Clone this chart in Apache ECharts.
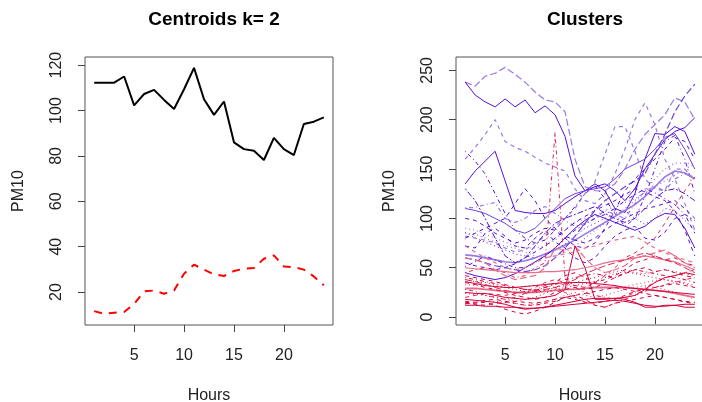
<!DOCTYPE html>
<html>
<head>
<meta charset="utf-8">
<script src="https://cdn.jsdelivr.net/npm/echarts@6/dist/echarts.min.js"></script>
<style>
  html, body { margin: 0; padding: 0; background: #ffffff; }
  #chart { width: 702px; height: 402px; }
</style>
</head>
<body>
<div id="chart"></div>
<script>
// Hour of day, 1..24
const hours = [1,2,3,4,5,6,7,8,9,10,11,12,13,14,15,16,17,18,19,20,21,22,23,24];

// Cluster centroids (PM10 per hour)
const centroidHigh = [112.3,112.3,112.3,115,102.3,107.3,109.1,104.7,100.7,109.4,118.8,105,98.1,104,86,83,82.3,78.2,88,83,80.4,94.1,95.1,97];
const centroidLow  = [11.6,10.4,10.9,11.2,14.8,20.3,20.7,19.3,20.7,28.1,32.1,29.9,27.8,27.1,29.3,30.3,30.6,34.7,36.2,31.3,31,29.9,26.9,23];

// Daily profiles assigned to the high-PM10 cluster
const highProfiles = [
  [238,234,244,247,253,246,238,228,220,218,208,160,132,128,128,135,150,170,185,195,205,222,218,200],
  [238,225,218,213,221,213,220,207,214,205,183,143,128,132,135,128,118,130,150,165,180,188,192,202],
  [168,158,145,125,105,88,80,75,78,88,100,112,125,133,120,105,92,100,122,150,178,184,160,125],
  [160,172,185,200,178,172,168,162,156,152,148,130,118,115,125,145,170,200,217,195,160,140,115,88],
  [135,148,158,168,138,108,106,105,105,108,115,122,128,135,128,110,106,125,160,186,185,193,188,165],
  [111,111,114,116,100,96,100,108,112,105,98,92,95,100,108,104,100,115,128,132,128,140,145,142],
  [90,88,84,80,76,72,70,70,72,78,88,96,100,102,108,112,116,120,126,132,138,144,150,155],
  [86,80,76,72,68,64,62,60,64,68,74,82,90,95,100,105,108,100,94,100,110,108,98,88],
  [72,70,85,90,82,72,70,80,88,76,70,60,55,60,72,82,88,92,80,78,86,100,104,85],
  [63,62,60,58,56,55,57,60,64,68,73,78,84,90,96,102,108,114,122,132,142,148,146,140],
  [55,52,50,48,50,54,60,66,72,80,88,96,102,108,113,118,124,130,127,122,118,108,88,62],
  [51,56,62,58,54,50,50,55,62,70,80,88,94,100,104,110,118,124,130,126,120,114,104,98],
  [45,42,40,38,40,44,50,56,62,70,80,90,98,104,100,96,92,88,92,100,105,104,90,70],
  [82,80,78,75,70,66,68,75,82,92,100,110,125,137,165,193,193,168,140,130,128,150,150,138],
  [85,84,80,76,72,70,66,62,60,62,66,72,80,88,95,102,110,118,128,140,150,156,156,155],
  [130,118,100,80,62,55,60,72,85,95,100,104,108,112,105,100,96,100,110,120,128,130,125,118],
  [60,58,55,52,50,48,46,48,52,60,70,82,95,108,118,125,132,138,145,165,185,208,224,236],
  [100,98,92,85,80,75,78,85,90,88,80,72,70,75,90,108,128,140,150,160,170,182,178,160],
  [110,108,105,100,95,88,85,90,100,110,120,125,128,130,132,140,150,155,160,170,182,186,170,150],
  [80,85,90,95,100,115,130,118,100,90,82,78,75,80,88,95,100,105,110,112,115,118,110,100]
];

// Daily profiles assigned to the low-PM10 cluster
const lowProfiles = [
  [18,17,16,15,13,10,8,9,10,12,14,16,18,19,19,19,18,15,10,10,12,12,10,10],
  [15,14,15,12,8,5,3,6,10,15,20,22,18,12,10,14,16,18,20,22,20,18,15,14],
  [13,15,16,16,15,14,12,13,15,18,22,25,22,20,22,25,28,30,32,30,28,25,22,18],
  [40,38,36,34,32,30,28,27,30,33,38,40,42,44,42,40,45,48,46,44,42,40,38,35],
  [29,29,28,27,26,25,25,25,26,27,28,28,29,30,30,30,30,29,28,27,26,24,22,20],
  [33,32,32,31,30,30,31,32,33,34,33,32,31,30,30,30,31,33,35,37,38,36,35,32],
  [36,34,32,31,30,30,31,32,33,34,35,35,35,34,33,32,30,29,28,27,26,25,24,23],
  [42,40,38,36,33,30,28,27,30,35,42,45,40,35,38,42,48,55,58,62,58,60,55,52],
  [45,48,50,48,45,40,42,50,55,187,40,30,25,22,20,18,20,25,30,35,40,42,45,48],
  [60,58,55,48,42,38,40,42,50,70,68,72,60,50,45,48,52,60,62,65,68,62,55,50],
  [20,22,24,23,22,24,26,30,35,38,35,32,30,35,42,50,60,65,72,80,95,112,128,142],
  [25,24,24,22,20,19,18,19,20,22,28,72,50,18,18,19,20,22,28,35,40,42,45,43],
  [72,66,60,55,50,48,50,55,60,62,64,66,70,72,76,78,80,82,76,70,65,62,58,55],
  [38,36,35,33,30,28,26,25,27,30,32,35,38,40,43,46,48,45,44,46,48,46,44,42],
  [16,15,17,18,16,14,12,12,14,16,20,18,15,14,16,18,22,26,28,30,32,34,32,30],
  [50,49,48,47,46,45,45,45,46,46,47,48,50,52,55,57,58,60,62,60,58,56,52,48],
  [28,26,22,20,18,20,24,28,32,30,25,20,15,12,10,14,18,22,26,30,33,35,38,40],
  [35,33,30,28,25,22,20,18,20,25,28,30,28,30,35,40,44,48,50,46,48,45,42,40],
  [14,13,12,14,15,16,15,14,16,18,20,22,24,26,28,30,28,26,24,22,20,18,16,15],
  [24,23,22,20,18,16,18,20,24,28,30,32,34,36,40,44,46,44,42,40,38,36,34,30],
  [38,36,33,30,27,25,24,26,28,30,34,38,44,48,52,55,58,62,65,62,58,55,50,45],
  [12,12,11,11,10,10,9,9,10,11,12,13,14,15,16,17,16,14,12,11,11,12,13,13]
];

// Axis tick values
const xTicks = [5, 10, 15, 20];
const yTicksLeft = [20, 40, 60, 80, 100, 120];
const yTicksRight = [0, 50, 100, 150, 200, 250];

// Styling: colours and line types per profile
const FONT = "'Liberation Sans', Arial, sans-serif";
const P_DARK = '#5510d8', P_MID = '#7040dc', P_LIGHT = '#9a78e2';
const R_DARK = '#d4003a', R_MID = '#dc2850', R_LIGHT = '#e46e8c';
const LTY = {
  solid: 'solid', dashed: [4, 4], dotted: [1, 3], dotdash: [1, 3, 4, 3],
  longdash: [7, 3], twodash: [2, 2, 6, 2]
};
const highColor = [P_LIGHT, P_DARK, P_DARK, P_LIGHT, P_DARK, P_LIGHT, P_LIGHT, P_DARK, P_DARK, P_LIGHT,
                   P_DARK, P_DARK, P_DARK, P_LIGHT, P_LIGHT, P_DARK, P_MID, P_DARK, P_MID, P_DARK];
const highType = ['longdash', 'solid', 'dotdash', 'dashed', 'solid', 'dotdash', 'dotted', 'dotted', 'dashed', 'solid',
                  'dashed', 'dotdash', 'solid', 'dashed', 'dotted', 'twodash', 'longdash', 'dashed', 'solid', 'dashed'];
const highWidth = [1.2, 1, 1, 1.2, 1, 1.2, 1.2, 1, 1, 1.6, 1, 1, 1, 1.2, 1.2, 1, 1.2, 1, 1, 1];
const lowColor = [R_DARK, R_DARK, R_MID, R_DARK, R_LIGHT, R_LIGHT, R_DARK, R_DARK, R_MID, R_LIGHT, R_MID,
                  R_DARK, R_LIGHT, R_DARK, R_DARK, R_LIGHT, R_MID, R_DARK, R_DARK, R_DARK, R_MID, R_DARK];
const lowType = ['solid', 'dashed', 'dotted', 'dotdash', 'solid', 'dotted', 'solid', 'dashed', 'dotdash', 'longdash', 'dashed',
                 'solid', 'dashed', 'dotted', 'dashed', 'solid', 'dotdash', 'dashed', 'dashed', 'dotted', 'longdash', 'solid'];
const lowWidth = [1, 1, 1, 1, 1.8, 1.4, 1, 1, 1, 1.2, 1, 1, 1.2, 1, 1, 1.2, 1, 1, 1, 1, 1, 1];

const pairs = vals => hours.map((h, i) => [h, vals[i]]);

function makeAxes(gridIndex, yMin, yMax, yTicks, xMin, xMax) {
  const tickStyle = { color: '#444', width: 1 };
  const labelStyle = { fontSize: 16, color: '#222', fontFamily: FONT };
  return {
    x: {
      gridIndex, type: 'value', min: xMin, max: xMax,
      axisLine: { show: false }, splitLine: { show: false },
      axisTick: { show: true, length: 7, inside: false, lineStyle: tickStyle, customValues: xTicks },
      axisLabel: Object.assign({ customValues: xTicks, margin: 23 }, labelStyle),
      name: 'Hours', nameLocation: 'middle', nameGap: 63,
      nameTextStyle: { fontSize: 16, color: '#222', fontFamily: FONT }
    },
    y: {
      gridIndex, type: 'value', min: yMin, max: yMax,
      axisLine: { show: false }, splitLine: { show: false },
      axisTick: { show: true, length: 7, inside: false, lineStyle: tickStyle, customValues: yTicks },
      axisLabel: Object.assign({ customValues: yTicks, margin: 20, rotate: 90 }, labelStyle),
      name: 'PM10', nameLocation: 'middle', nameGap: 58,
      nameTextStyle: { fontSize: 16, color: '#222', fontFamily: FONT }
    }
  };
}

const leftAxes = makeAxes(0, 5.5, 123.6, yTicksLeft, 0.08, 24.92);
const rightAxes = makeAxes(1, -8, 263.5, yTicksRight, 0.08, 24.92);

const series = [
  {
    type: 'line', xAxisIndex: 0, yAxisIndex: 0, data: pairs(centroidHigh),
    symbol: 'none', lineStyle: { color: '#000', width: 2 }, silent: true
  },
  {
    type: 'line', xAxisIndex: 0, yAxisIndex: 0, data: pairs(centroidLow),
    symbol: 'none', lineStyle: { color: '#ff0000', width: 2, type: [8, 7] }, silent: true
  }
];

highProfiles.forEach((vals, i) => {
  series.push({
    type: 'line', xAxisIndex: 1, yAxisIndex: 1, data: pairs(vals),
    symbol: 'none', silent: true,
    lineStyle: { color: highColor[i], width: highWidth[i], type: LTY[highType[i]] }
  });
});
lowProfiles.forEach((vals, i) => {
  series.push({
    type: 'line', xAxisIndex: 1, yAxisIndex: 1, data: pairs(vals),
    symbol: 'none', silent: true,
    lineStyle: { color: lowColor[i], width: lowWidth[i], type: LTY[lowType[i]] }
  });
});

const gridBase = {
  top: 57, width: 248, height: 268, show: true,
  borderColor: '#555', borderWidth: 1, backgroundColor: 'transparent',
  outerBoundsMode: 'none', containLabel: false
};

const chart = echarts.init(document.getElementById('chart'), null, { renderer: 'canvas' });
chart.setOption({
  animation: false,
  backgroundColor: '#ffffff',
  title: [
    { text: 'Centroids k= 2', left: 209, top: 5, textAlign: 'center',
      textStyle: { fontSize: 19, fontWeight: 'bold', color: '#000', fontFamily: FONT } },
    { text: 'Clusters', left: 580, top: 5, textAlign: 'center',
      textStyle: { fontSize: 19, fontWeight: 'bold', color: '#000', fontFamily: FONT } }
  ],
  grid: [
    Object.assign({ left: 85 }, gridBase),
    Object.assign({ left: 456 }, gridBase)
  ],
  xAxis: [leftAxes.x, rightAxes.x],
  yAxis: [leftAxes.y, rightAxes.y],
  series: series
});
</script>
</body>
</html>
